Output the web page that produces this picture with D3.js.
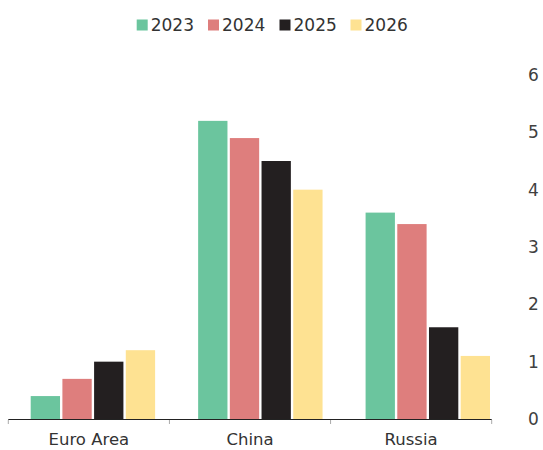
<!DOCTYPE html>
<html>
<head>
<meta charset="utf-8">
<script src="https://cdn.jsdelivr.net/npm/d3@7"></script>
<style>
  html, body { margin: 0; padding: 0; background: #fff; }
  text { font-family: "DejaVu Sans", sans-serif; fill: #333; }
</style>
</head>
<body>
<svg id="chart" width="543" height="450"></svg>
<script>
// Regions and forecast years
const categories = ["Euro Area", "China", "Russia"];
const years = ["2023", "2024", "2025", "2026"];

// Growth values per year, one array per series (same order as categories)
const values2023 = [0.4, 5.2, 3.6];
const values2024 = [0.7, 4.9, 3.4];
const values2025 = [1.0, 4.5, 1.6];
const values2026 = [1.2, 4.0, 1.1];

const yTicks = [0, 1, 2, 3, 4, 5, 6];
const colors = ["#6BC59E", "#DE7E7D", "#231F20", "#FEE292"];

const series = [values2023, values2024, values2025, values2026];

const svg = d3.select("#chart");

const y = d3.scaleLinear().domain([0, 6]).range([419, 75]);

// Groups of bars
const xGroup = d3.scaleBand()
  .domain(categories)
  .range([30.7, 490])
  .paddingInner(0.257)
  .paddingOuter(0);

const xBar = d3.scaleBand()
  .domain(years)
  .range([0, xGroup.bandwidth()])
  .paddingInner(0.075);

// Axis ticks / labels spread across the axis line
const xAxisScale = d3.scaleBand()
  .domain(categories)
  .range([8.3, 491.7]);

const groups = svg.append("g")
  .selectAll("g")
  .data(categories)
  .join("g")
  .attr("transform", d => `translate(${xGroup(d)},0)`);

groups.selectAll("rect")
  .data((c, ci) => years.map((yr, si) => ({ yr, si, v: series[si][ci] })))
  .join("rect")
  .attr("x", d => xBar(d.yr))
  .attr("width", xBar.bandwidth())
  .attr("y", d => y(d.v))
  .attr("height", d => y(0) - y(d.v))
  .attr("fill", d => colors[d.si]);

// Baseline
svg.append("line")
  .attr("x1", 8.3).attr("x2", 491.7)
  .attr("y1", y(0) + 0.5).attr("y2", y(0) + 0.5)
  .attr("stroke", "#222").attr("stroke-width", 1.2);

// Category separator ticks
const tickXs = categories.map(c => xAxisScale(c)).concat([491.7]);
svg.append("g").selectAll("line")
  .data(tickXs)
  .join("line")
  .attr("x1", d => d).attr("x2", d => d)
  .attr("y1", y(0) + 1).attr("y2", y(0) + 5)
  .attr("stroke", "#aaa").attr("stroke-width", 1);

// Category labels
svg.append("g").selectAll("text")
  .data(categories)
  .join("text")
  .attr("x", d => xAxisScale(d) + xAxisScale.bandwidth() / 2)
  .attr("y", 445)
  .attr("text-anchor", "middle")
  .style("font-size", "16.5px")
  .text(d => d);

// Right-side value axis labels
svg.append("g").selectAll("text")
  .data(yTicks)
  .join("text")
  .attr("x", 528)
  .attr("y", d => y(d) + 6)
  .style("font-size", "17px")
  .style("fill", "#404040")
  .text(d => d);

// Legend
const legendX = [136.7, 208, 279.5, 350.5];
const legend = svg.append("g").selectAll("g")
  .data(years)
  .join("g")
  .attr("transform", (d, i) => `translate(${legendX[i]},0)`);

legend.append("rect")
  .attr("x", 0).attr("y", 19.5)
  .attr("width", 11).attr("height", 11)
  .attr("fill", (d, i) => colors[i]);

legend.append("text")
  .attr("x", 14).attr("y", 31)
  .style("font-size", "17px")
  .text(d => d);
</script>
</body>
</html>
